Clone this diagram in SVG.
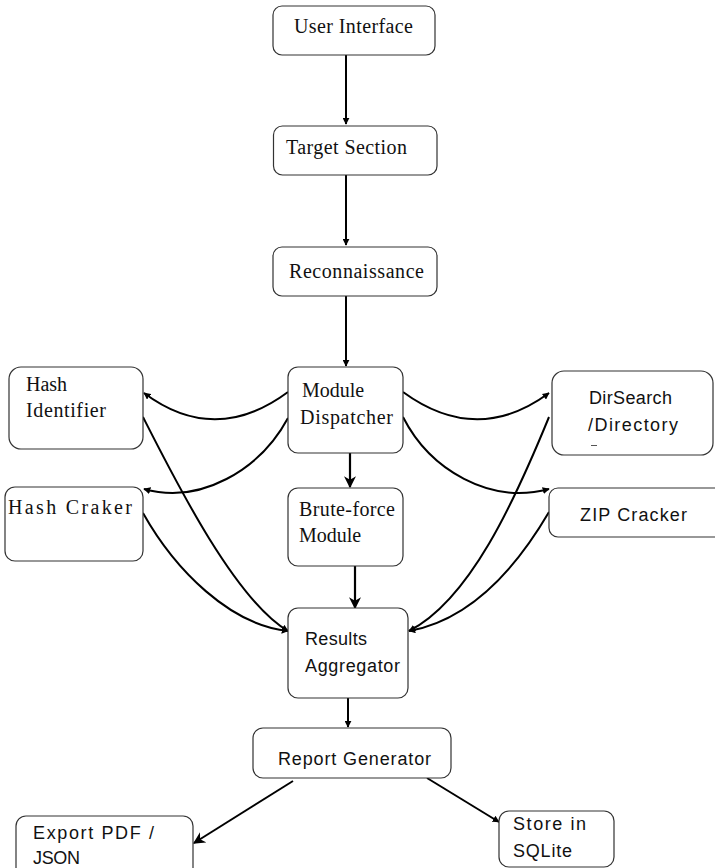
<svg xmlns="http://www.w3.org/2000/svg" width="715" height="868" viewBox="0 0 715 868">
<defs>
<style>
.box{fill:#fff;stroke:#333;stroke-width:1.2}
.serif{font-family:"Liberation Serif","Times New Roman",serif;font-size:20px;fill:#111}
.sans{font-family:"Liberation Sans",Arial,sans-serif;font-size:18px;fill:#111}
.c{fill:none;stroke:#000;stroke-width:2}
.cs{fill:none;stroke:#000;stroke-width:2.2}
</style>
<marker id="ah" viewBox="0 0 10 10" refX="9" refY="5" markerWidth="7" markerHeight="7" markerUnits="userSpaceOnUse" orient="auto"><path d="M0,0 L10,5 L0,10 z" fill="#000"/></marker>
<marker id="ahb" viewBox="0 0 10 10" refX="9" refY="5" markerWidth="12" markerHeight="12" markerUnits="userSpaceOnUse" orient="auto"><path d="M0,0 L10,5 L0,10 L3,5 z" fill="#000"/></marker>
</defs>
<rect width="715" height="868" fill="#fff"/>
<g id="connectors">
<path class="c" d="M346,55 L346,124" marker-end="url(#ah)"/>
<path class="c" d="M346,175 L346,245" marker-end="url(#ah)"/>
<path class="c" d="M346,296 L346,366" marker-end="url(#ah)"/>
<path class="cs" d="M350,453 L350,487" marker-end="url(#ahb)"/>
<path class="cs" d="M355,566 L355,608" marker-end="url(#ahb)"/>
<path class="c" d="M348,698 L348,727" marker-end="url(#ah)"/>
<path class="c" d="M288,392 Q215,446 144,393" marker-end="url(#ah)"/>
<path class="c" d="M288,418 C260,470 200,505 144,489" marker-end="url(#ah)"/>
<path class="c" d="M403,392 Q477,446 549,393" marker-end="url(#ah)"/>
<path class="c" d="M403,417 C430,470 490,505 549,489" marker-end="url(#ah)"/>
<path class="c" d="M143,417 C175,480 235,600 288,631" marker-end="url(#ah)"/>
<path class="c" d="M143,513 C175,570 230,625 288,631" marker-end="url(#ah)"/>
<path class="c" d="M549,417 C515,500 470,600 409,631" marker-end="url(#ah)"/>
<path class="c" d="M549,512 C515,570 470,620 409,631" marker-end="url(#ah)"/>
<path class="c" d="M293,781 L194,843" marker-end="url(#ahb)"/>
<path class="c" d="M427,778 L499,822" marker-end="url(#ah)"/>
</g>
<g id="user-interface"><rect class="box" x="273" y="6" width="162" height="49" rx="9"/><text class="serif" x="294" y="33" textLength="119">User Interface</text></g>
<g id="target-section"><rect class="box" x="273.5" y="126" width="163.5" height="49" rx="9"/><text class="serif" x="286" y="154" textLength="121">Target Section</text></g>
<g id="reconnaissance"><rect class="box" x="273" y="247" width="164" height="49" rx="9"/><text class="serif" x="289" y="278" textLength="135">Reconnaissance</text></g>
<g id="module-dispatcher"><rect class="box" x="288" y="367" width="115" height="86" rx="10"/><text class="serif" x="302" y="397">Module</text><text class="serif" x="300" y="424" textLength="93">Dispatcher</text></g>
<g id="brute-force"><rect class="box" x="288" y="488" width="115" height="78" rx="10"/><text class="serif" x="299" y="516" textLength="96">Brute-force</text><text class="serif" x="299" y="542">Module</text></g>
<g id="results-aggregator"><rect class="box" x="288" y="608" width="120" height="90" rx="10"/><text class="sans" x="305" y="645" textLength="62">Results</text><text class="sans" x="305" y="672" textLength="95">Aggregator</text></g>
<g id="hash-identifier"><rect class="box" x="9" y="367" width="134" height="82" rx="12"/><text class="serif" x="26" y="391">Hash</text><text class="serif" x="26" y="417" textLength="80">Identifier</text></g>
<g id="hash-craker"><rect class="box" x="5" y="487" width="138" height="74" rx="10"/><text class="serif" x="8" y="514" textLength="124">Hash Craker</text></g>
<g id="dirsearch"><rect class="box" x="552" y="371" width="161" height="84" rx="12"/><text class="sans" x="589" y="404" textLength="83">DirSearch</text><text class="sans" x="588" y="431" textLength="90">/Directory</text><rect x="591" y="445" width="6" height="1" fill="#555"/></g>
<g id="zip-cracker"><rect class="box" x="549" y="488" width="180" height="49" rx="9"/><text class="sans" x="580" y="521" textLength="107">ZIP Cracker</text></g>
<g id="report-generator"><rect class="box" x="253" y="728" width="198" height="50" rx="10"/><text class="sans" x="278" y="765" textLength="153">Report Generator</text></g>
<g id="export"><rect class="box" x="16" y="816" width="177" height="70" rx="10"/><text class="sans" x="33" y="839" textLength="121">Export PDF /</text><text class="sans" x="33" y="864" textLength="47">JSON</text></g>
<g id="store"><rect class="box" x="499" y="811" width="115" height="56" rx="10"/><text class="sans" x="513" y="830" textLength="73">Store in</text><text class="sans" x="513" y="857" textLength="59">SQLite</text></g>
</svg>
